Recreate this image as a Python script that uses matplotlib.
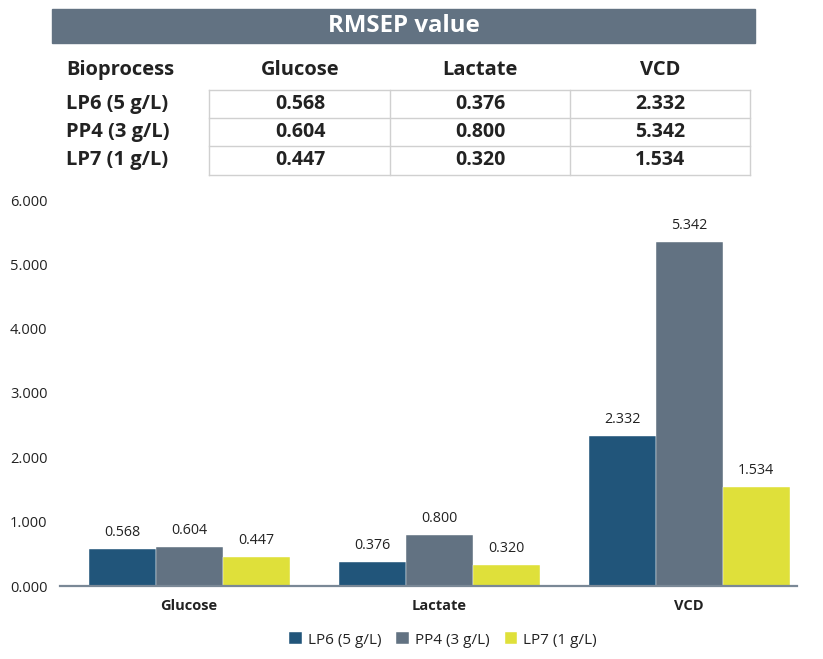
"""RMSEP value table and grouped bar chart."""

import matplotlib

matplotlib.use("Agg")
import numpy as np
from matplotlib import pyplot as plt
from matplotlib.patches import Rectangle

plt.rcParams["font.family"] = ["Open Sans", "DejaVu Sans"]

# Data
analytes = ["Glucose", "Lactate", "VCD"]
bioprocesses = ["LP6 (5 g/L)", "PP4 (3 g/L)", "LP7 (1 g/L)"]
lp6_values = [0.568, 0.376, 2.332]
pp4_values = [0.604, 0.800, 5.342]
lp7_values = [0.447, 0.320, 1.534]
y_ticks = [0, 1, 2, 3, 4, 5, 6]

colors = ["#21557a", "#627282", "#dfe03a"]
text_color = "#222222"

W, H = 823, 659
fig = plt.figure(figsize=(W / 100, H / 100), dpi=100)


def fx(x):
    return x / W


def fy(y):
    return 1 - y / H


# Header bar
fig.patches.append(
    Rectangle((fx(52), fy(43)), fx(755) - fx(52), fy(9) - fy(43),
              transform=fig.transFigure, color="#627282", zorder=0)
)
fig.text(fx(404), fy(26), "RMSEP value", color="white", fontsize=17.3,
         fontweight="bold", ha="center", va="center")

# Table header
fig.text(fx(66), fy(70), "Bioprocess", fontsize=14.5, fontweight="bold",
         color=text_color, ha="left", va="center")
col_centers = [300, 480, 660]
for cx, name in zip(col_centers, analytes):
    fig.text(fx(cx), fy(70), name, fontsize=14.5, fontweight="bold",
             color=text_color, ha="center", va="center")

# Table body
row_centers = [104, 132, 160]
table_rows = [lp6_values, pp4_values, lp7_values]
for ry, name, vals in zip(row_centers, bioprocesses, table_rows):
    fig.text(fx(66), fy(ry), name, fontsize=14.5, fontweight="bold",
             color=text_color, ha="left", va="center")
    for cx, v in zip(col_centers, vals):
        fig.text(fx(cx), fy(ry), f"{v:.3f}", fontsize=14, fontweight="bold",
                 color=text_color, ha="center", va="center")

grid_color = "#d0d0d0"
x_edges = [209, 390, 570, 750]
y_edges = [90, 118, 146, 175]
for xe in x_edges:
    fig.add_artist(plt.Line2D([fx(xe), fx(xe)], [fy(y_edges[0]), fy(y_edges[-1])],
                              transform=fig.transFigure, color=grid_color, lw=1))
for ye in y_edges:
    fig.add_artist(plt.Line2D([fx(x_edges[0]), fx(x_edges[-1])], [fy(ye), fy(ye)],
                              transform=fig.transFigure, color=grid_color, lw=1))

# Bar chart
ax = fig.add_axes([fx(60), fy(586), fx(797) - fx(60), fy(200) - fy(586)])
x = np.arange(len(analytes))
width = 0.268
series = [lp6_values, pp4_values, lp7_values]
for i, (vals, label, color) in enumerate(zip(series, bioprocesses, colors)):
    bars = ax.bar(x + (i - 1) * width, vals, width, color=color, label=label,
                  edgecolor="white", linewidth=0.3, zorder=2)
    for b, v in zip(bars, vals):
        ax.text(b.get_x() + b.get_width() / 2, v + 0.14, f"{v:.3f}",
                ha="center", va="bottom", fontsize=10.3, color=text_color)

ax.set_xlim(-0.516, 2.432)
ax.set_ylim(0, 6)
ax.set_yticks(y_ticks)
ax.set_yticklabels([f"{t:.3f}" for t in y_ticks])
ax.set_xticks(x)
ax.set_xticklabels(analytes, fontweight="bold")
ax.tick_params(axis="y", length=0, pad=9, labelsize=10.5, labelcolor=text_color)
ax.tick_params(axis="x", length=0, pad=9, labelsize=10.5, labelcolor=text_color)
for side in ["top", "right", "left"]:
    ax.spines[side].set_visible(False)
ax.spines["bottom"].set_color("#7a8896")
ax.spines["bottom"].set_linewidth(1.6)
ax.set_facecolor("none")

handles, labels = ax.get_legend_handles_labels()
fig.legend(handles, labels, loc="center", bbox_to_anchor=(fx(443), fy(640)),
           ncol=3, frameon=False, fontsize=11, handlelength=0.8, handleheight=0.8,
           handletextpad=0.4, columnspacing=1.0, labelcolor=text_color)

plt.savefig("out.png", dpi=100)
plt.close()
